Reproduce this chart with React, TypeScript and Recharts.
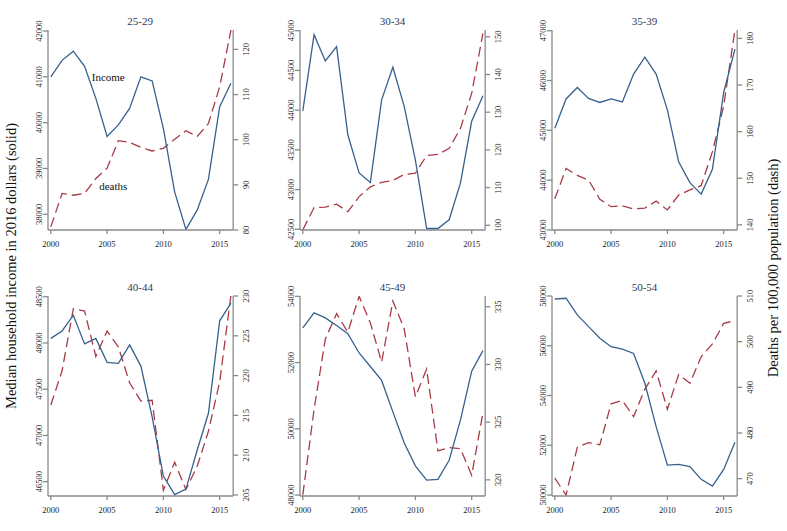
import { LineChart, Line, XAxis, YAxis, ReferenceDot } from 'recharts';

const years = [2000, 2001, 2002, 2003, 2004, 2005, 2006, 2007, 2008, 2009, 2010, 2011, 2012, 2013, 2014, 2015, 2016];
const yearTicks = [2000, 2005, 2010, 2015];
const ageGroups = ['25-29', '30-34', '35-39', '40-44', '45-49', '50-54'];

// median household income, 2016 dollars (solid line)
const income2529 = [41000, 41360, 41560, 41230, 40530, 39700, 39950, 40310, 41000, 40910, 39870, 38490, 37670, 38090, 38760, 40350, 40860];
const income3034 = [43990, 44950, 44620, 44800, 43690, 43210, 43090, 44130, 44540, 44050, 43370, 42510, 42510, 42620, 43080, 43860, 44180];
const income3539 = [45040, 45630, 45860, 45640, 45560, 45630, 45570, 46130, 46470, 46130, 45410, 44370, 43950, 43720, 44220, 45760, 46630];
const income4044 = [48050, 48130, 48300, 47990, 48050, 47790, 47780, 47980, 47750, 47200, 46560, 46360, 46420, 46840, 47240, 48240, 48430];
const income4549 = [53050, 53500, 53350, 53120, 52870, 52290, 51880, 51460, 50510, 49580, 48880, 48450, 48470, 49050, 50260, 51740, 52360];
const income5054 = [57880, 57910, 57240, 56770, 56300, 55960, 55860, 55690, 54490, 52750, 51200, 51230, 51140, 50630, 50360, 51030, 52120];

// deaths per 100,000 population (dashed line)
const deaths2529 = [80.7, 88.1, 87.7, 88.1, 91.4, 93.7, 99.8, 99.4, 98.3, 97.5, 98.1, 100.1, 102.0, 100.7, 103.6, 111.7, 124.3];
const deaths3034 = [98.8, 104.7, 104.8, 105.6, 103.6, 107.6, 110.2, 111.4, 111.9, 113.5, 113.8, 118.5, 118.8, 120.4, 125.7, 135.0, 150.9];
const deaths3539 = [145.6, 152.1, 150.6, 149.6, 145.5, 143.9, 144.1, 143.4, 143.6, 145.1, 143.2, 146.4, 147.5, 148.4, 155.7, 165.5, 181.8];
const deaths4044 = [216.3, 220.6, 228.4, 228.1, 222.4, 225.6, 223.6, 219.1, 216.8, 216.9, 205.6, 209.1, 205.7, 208.6, 213.0, 219.2, 230.1];
const deaths4549 = [318.7, 326.1, 332.2, 334.4, 332.8, 335.9, 333.6, 330.2, 335.5, 333.1, 327.2, 329.6, 322.5, 322.8, 322.7, 320.4, 325.8];
const deaths5054 = [470.1, 466.4, 476.9, 477.9, 477.4, 486.4, 487.1, 483.6, 489.6, 493.6, 485.2, 492.8, 490.9, 496.7, 499.5, 504.0, 504.6];

const incomeTicks2529 = [38000, 39000, 40000, 41000, 42000];
const incomeTicks3034 = [42500, 43000, 43500, 44000, 44500, 45000];
const incomeTicks3539 = [43000, 44000, 45000, 46000, 47000];
const incomeTicks4044 = [46500, 47000, 47500, 48000, 48500];
const incomeTicks4549 = [48000, 50000, 52000, 54000];
const incomeTicks5054 = [50000, 52000, 54000, 56000, 58000];

const deathTicks2529 = [80, 90, 100, 110, 120];
const deathTicks3034 = [100, 110, 120, 130, 140, 150];
const deathTicks3539 = [140, 150, 160, 170, 180];
const deathTicks4044 = [205, 210, 215, 220, 225, 230];
const deathTicks4549 = [320, 325, 330, 335];
const deathTicks5054 = [470, 480, 490, 500, 510];

const FONT = '"Liberation Serif", "Times New Roman", serif';
const BLUE = '#36618e';
const RED = '#a83a46';
const AXIS = '#8a8a8a';
const INK = '#222';

const COL_LEFT = [47.5, 299.9, 551.9];
const ROW_TOP = [30, 296];
const PLOT_W = 185.2;
const PLOT_H = 200;
const LEFT_W = 40;
const RIGHT_W = 30;
const TOP_M = 30;
const X_H = 25;

const panels = [
  { title: ageGroups[0], income: income2529, deaths: deaths2529, incomeTicks: incomeTicks2529, deathTicks: deathTicks2529, incomeDomain: [37657, 42022], deathDomain: [80, 124.3], col: 0, row: 0, notes: true },
  { title: ageGroups[1], income: income3034, deaths: deaths3034, incomeTicks: incomeTicks3034, deathTicks: deathTicks3034, incomeDomain: [42491, 45009], deathDomain: [98.75, 151.8], col: 1, row: 0 },
  { title: ageGroups[2], income: income3539, deaths: deaths3539, incomeTicks: incomeTicks3539, deathTicks: deathTicks3539, incomeDomain: [43000, 47014], deathDomain: [138.9, 181.8], col: 2, row: 0 },
  { title: ageGroups[3], income: income4044, deaths: deaths4044, incomeTicks: incomeTicks4044, deathTicks: deathTicks4044, incomeDomain: [46345, 48508], deathDomain: [204.87, 230], col: 0, row: 1 },
  { title: ageGroups[4], income: income4549, deaths: deaths4549, incomeTicks: incomeTicks4549, deathTicks: deathTicks4549, incomeDomain: [47970, 54010], deathDomain: [318.6, 335.93], col: 1, row: 1 },
  { title: ageGroups[5], income: income5054, deaths: deaths5054, incomeTicks: incomeTicks5054, deathTicks: deathTicks5054, incomeDomain: [49960, 58000], deathDomain: [466.2, 510], col: 2, row: 1 },
];

function VerticalTick(props: any) {
  const { x, y, payload } = props;
  return (
    <text
      x={x}
      y={y}
      transform={`rotate(-90 ${x} ${y})`}
      textAnchor="middle"
      fill={INK}
      fontSize={8.5}
      fontFamily={FONT}
    >
      {payload.value}
    </text>
  );
}

function noteShape(label: string) {
  return (props: any) => (
    <text x={props.cx} y={props.cy} dy="0.35em" textAnchor="middle" fill="#111" fontSize={11} fontFamily={FONT}>
      {label}
    </text>
  );
}

function Panel({ p }: { p: any }) {
  const data = years.map((year, i) => ({ year, income: p.income[i], deaths: p.deaths[i] }));
  return (
    <div style={{ position: 'absolute', left: COL_LEFT[p.col] - LEFT_W, top: ROW_TOP[p.row] - TOP_M }}>
      <LineChart
        width={LEFT_W + PLOT_W + RIGHT_W}
        height={TOP_M + PLOT_H + X_H}
        data={data}
        margin={{ top: TOP_M, right: 0, bottom: 0, left: 0 }}
      >
        <XAxis
          dataKey="year"
          type="number"
          domain={[1999.75, 2016.2]}
          allowDataOverflow
          ticks={yearTicks}
          height={X_H}
          stroke={AXIS}
          strokeWidth={1.3}
          tickSize={4}
          tickMargin={7}
          tick={{ fill: INK, fontSize: 8.5, fontFamily: FONT }}
        />
        <YAxis
          yAxisId="income"
          orientation="left"
          width={LEFT_W}
          domain={p.incomeDomain}
          allowDataOverflow
          ticks={p.incomeTicks}
          interval={0}
          stroke={AXIS}
          strokeWidth={1.3}
          tickSize={5}
          tickMargin={1}
          tick={VerticalTick}
        />
        <YAxis
          yAxisId="deaths"
          orientation="right"
          width={RIGHT_W}
          domain={p.deathDomain}
          allowDataOverflow
          ticks={p.deathTicks}
          interval={0}
          stroke={AXIS}
          strokeWidth={1.3}
          tickSize={5}
          tickMargin={10.5}
          tick={VerticalTick}
        />
        <Line
          yAxisId="deaths"
          dataKey="deaths"
          type="linear"
          stroke={RED}
          strokeWidth={1.3}
          strokeDasharray="10 5"
          dot={false}
          isAnimationActive={false}
        />
        <Line
          yAxisId="income"
          dataKey="income"
          type="linear"
          stroke={BLUE}
          strokeWidth={1.3}
          dot={false}
          isAnimationActive={false}
        />
        {p.notes && (
          <ReferenceDot yAxisId="income" x={2005.1} y={41000} r={0} shape={noteShape('Income')} />
        )}
        {p.notes && (
          <ReferenceDot yAxisId="deaths" x={2005.55} y={89.6} r={0} shape={noteShape('deaths')} />
        )}
      </LineChart>
    </div>
  );
}

export default function App() {
  return (
    <div style={{ position: 'absolute', left: 0, top: 0, width: 787, height: 531, background: '#fff', overflow: 'hidden' }}>
      {panels.map((p) => (
        <Panel key={p.title} p={p} />
      ))}
      <svg width={787} height={531} style={{ position: 'absolute', left: 0, top: 0, pointerEvents: 'none' }}>
        {panels.map((p) => (
          <text
            key={p.title}
            x={COL_LEFT[p.col] + PLOT_W / 2}
            y={ROW_TOP[p.row] - 5}
            textAnchor="middle"
            fill="#2e3858"
            fontSize={11}
            fontFamily={FONT}
          >
            {p.title}
          </text>
        ))}
        <text transform="translate(16 266) rotate(-90)" textAnchor="middle" fill="#111" fontSize={14.5} fontFamily={FONT}>
          Median household income in 2016 dollars (solid)
        </text>
        <text transform="translate(778 268) rotate(-90)" textAnchor="middle" fill="#111" fontSize={14.5} fontFamily={FONT}>
          Deaths per 100,000 population (dash)
        </text>
      </svg>
    </div>
  );
}
